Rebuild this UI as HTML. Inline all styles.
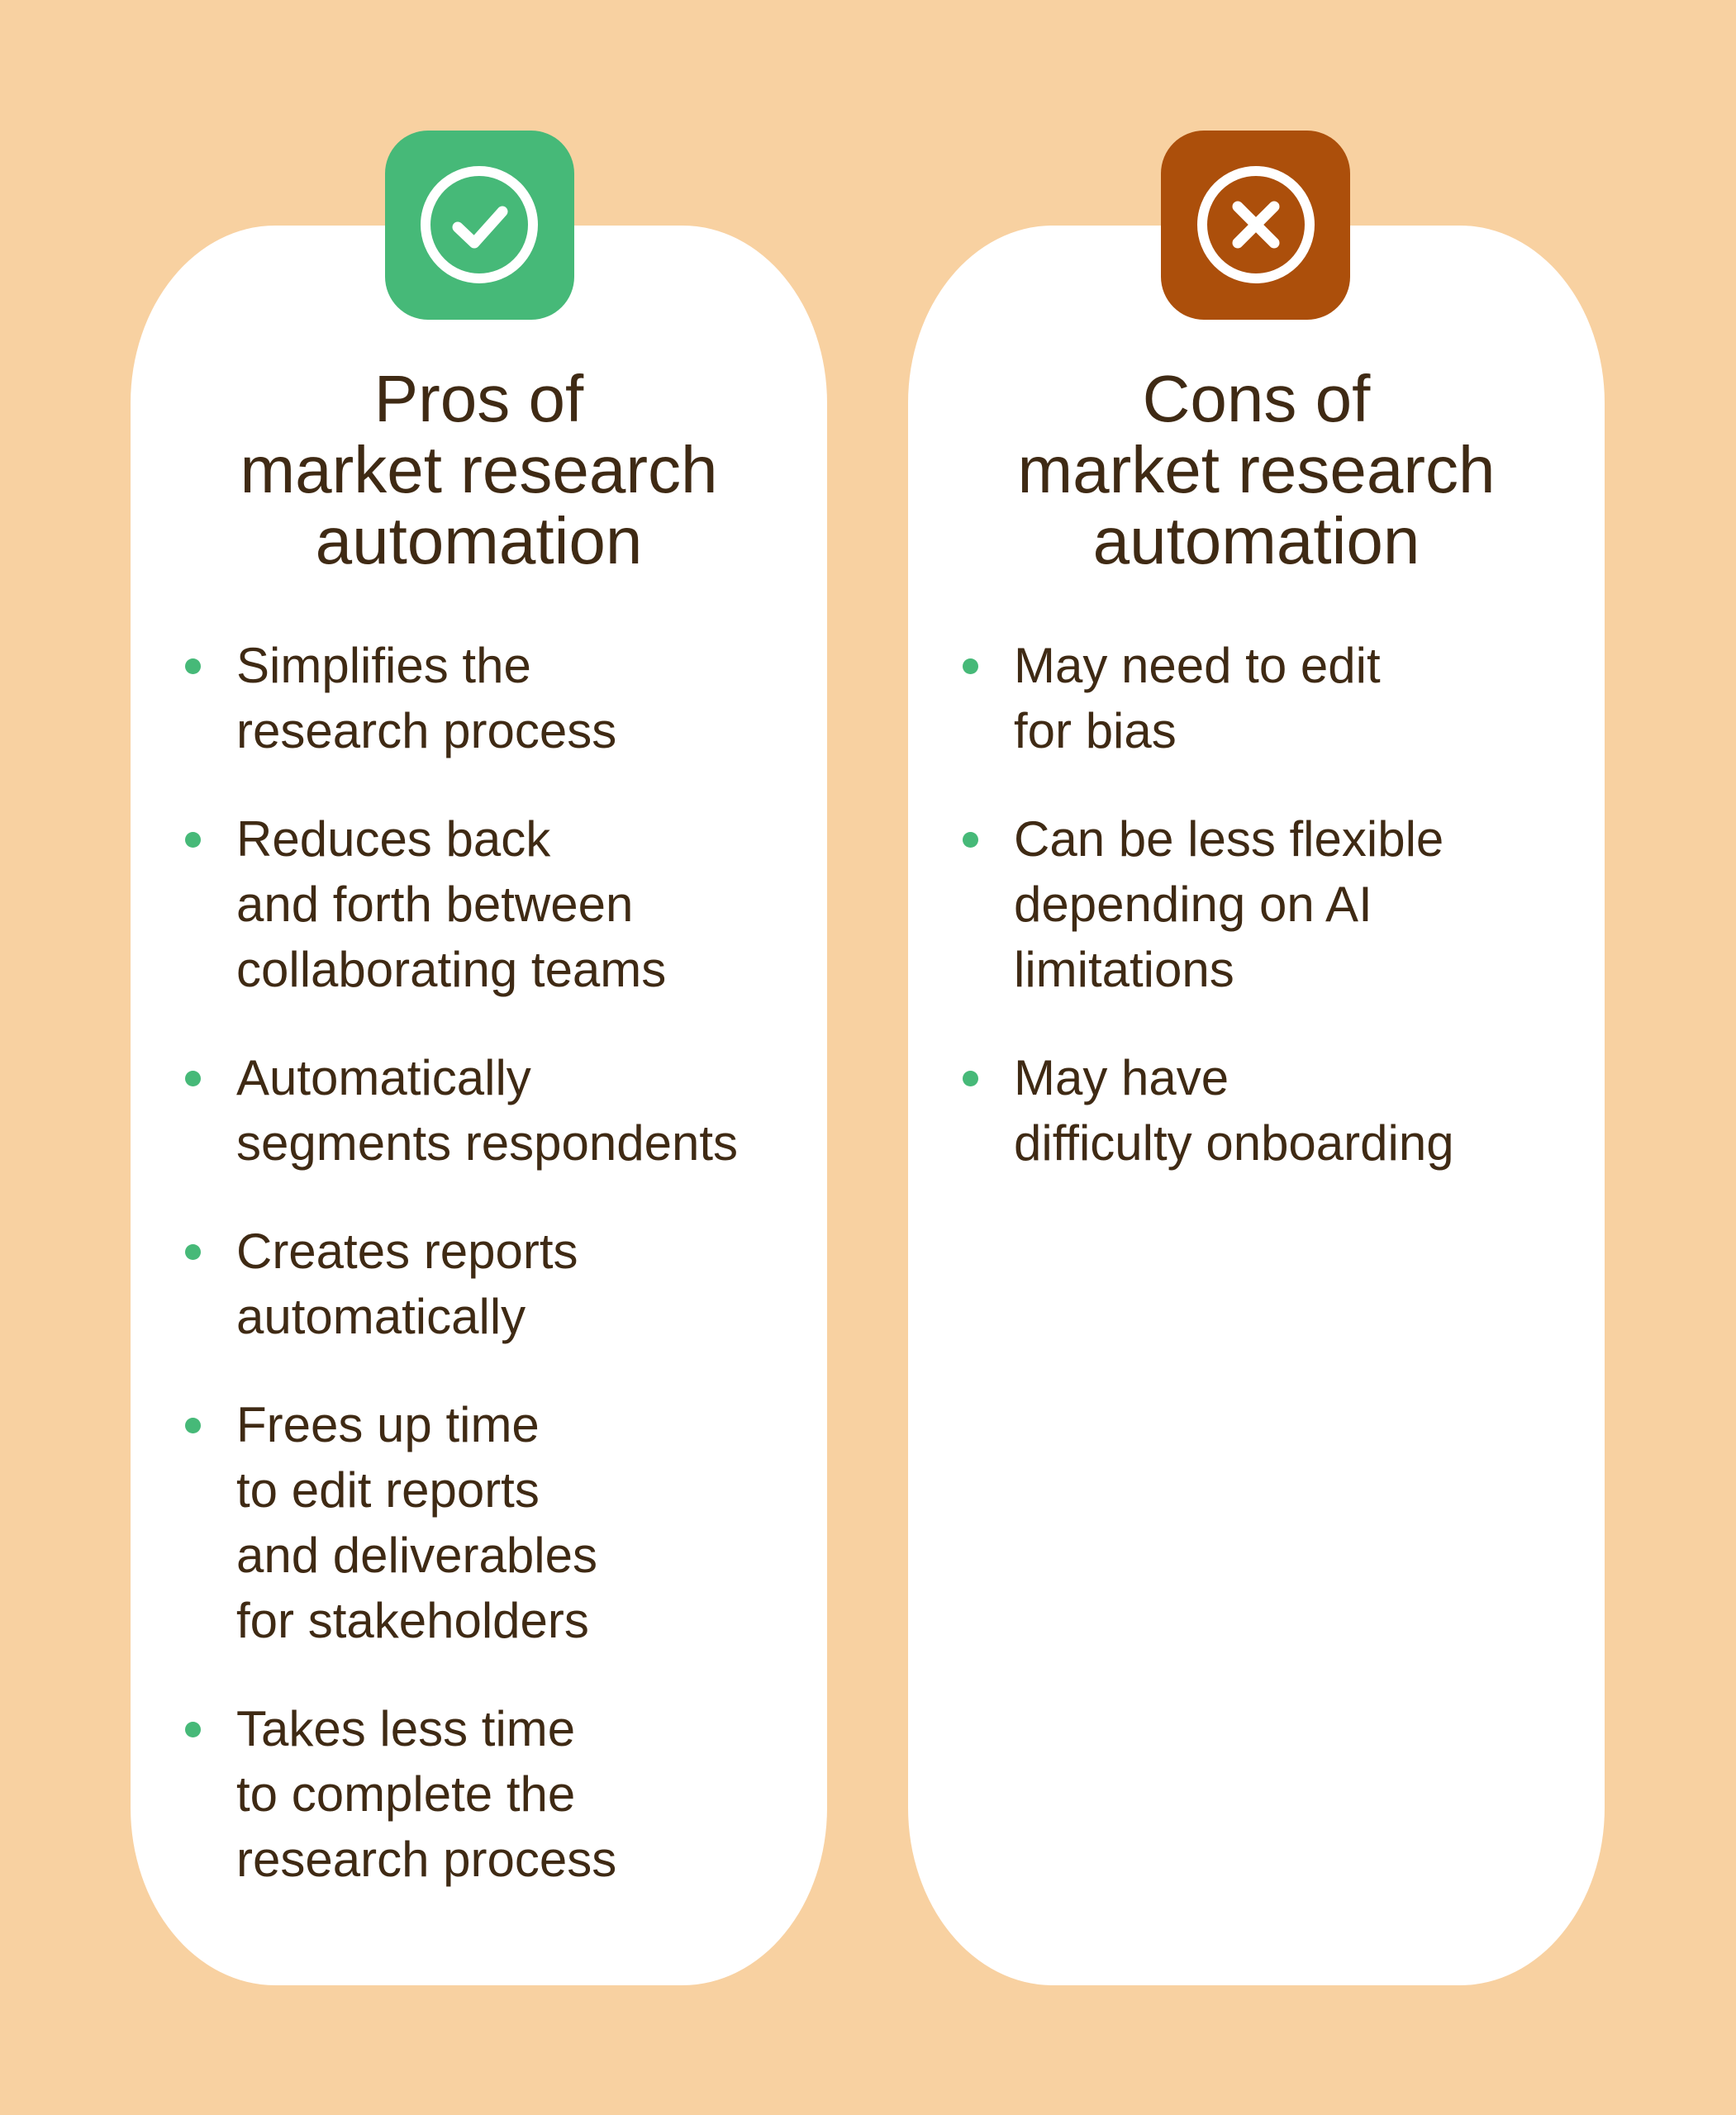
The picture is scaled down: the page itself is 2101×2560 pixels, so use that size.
<!DOCTYPE html>
<html><head><meta charset="utf-8"><style>
html,body{margin:0;padding:0}
body{width:2101px;height:2560px;background:#f8d1a1;position:relative;overflow:hidden;font-family:"Liberation Sans",sans-serif;color:#3f2a14}
.card{position:absolute;top:273px;width:843px;height:2130px;background:#fff;border-radius:175px/215px}
.icon{position:absolute;top:158px;width:229px;height:229px;border-radius:52px}
.title{position:absolute;top:440px;width:843px;text-align:center;font-size:80px;line-height:86px}
.list{position:absolute;top:766px;margin:0;padding:0;list-style:none;font-size:60px;line-height:79px}
.list li{position:relative;margin-bottom:52px;white-space:nowrap}
.list li::before{content:"";position:absolute;left:-62px;top:31px;width:19px;height:19px;border-radius:50%;background:#46b978}
</style></head><body>
<div class="card" style="left:158px"></div>
<div class="card" style="left:1099px"></div>
<div class="icon" style="left:466px;background:#46b978">
<svg width="229" height="229" viewBox="0 0 229 229"><circle cx="114" cy="114" r="65" fill="none" stroke="#fff" stroke-width="12"/><polyline points="88,117 108,136 142,98" fill="none" stroke="#fff" stroke-width="13" stroke-linecap="round" stroke-linejoin="round"/></svg></div>
<div class="icon" style="left:1405px;background:#ac4f0b">
<svg width="229" height="229" viewBox="0 0 229 229"><circle cx="115" cy="114" r="65" fill="none" stroke="#fff" stroke-width="12"/><path d="M93,92 L137,136 M137,92 L93,136" stroke="#fff" stroke-width="13" stroke-linecap="round"/></svg></div>
<div class="title" style="left:158px">Pros of<br>market research<br>automation</div>
<div class="title" style="left:1099px">Cons of<br>market research<br>automation</div>
<ul class="list" style="left:286px">
<li>Simplifies the<br>research process</li>
<li>Reduces back<br>and forth between<br>collaborating teams</li>
<li>Automatically<br>segments respondents</li>
<li>Creates reports<br>automatically</li>
<li>Frees up time<br>to edit reports<br>and deliverables<br>for stakeholders</li>
<li>Takes less time<br>to complete the<br>research process</li>
</ul>
<ul class="list" style="left:1227px">
<li>May need to edit<br>for bias</li>
<li>Can be less flexible<br>depending on AI<br>limitations</li>
<li>May have<br>difficulty onboarding</li>
</ul>
</body></html>
